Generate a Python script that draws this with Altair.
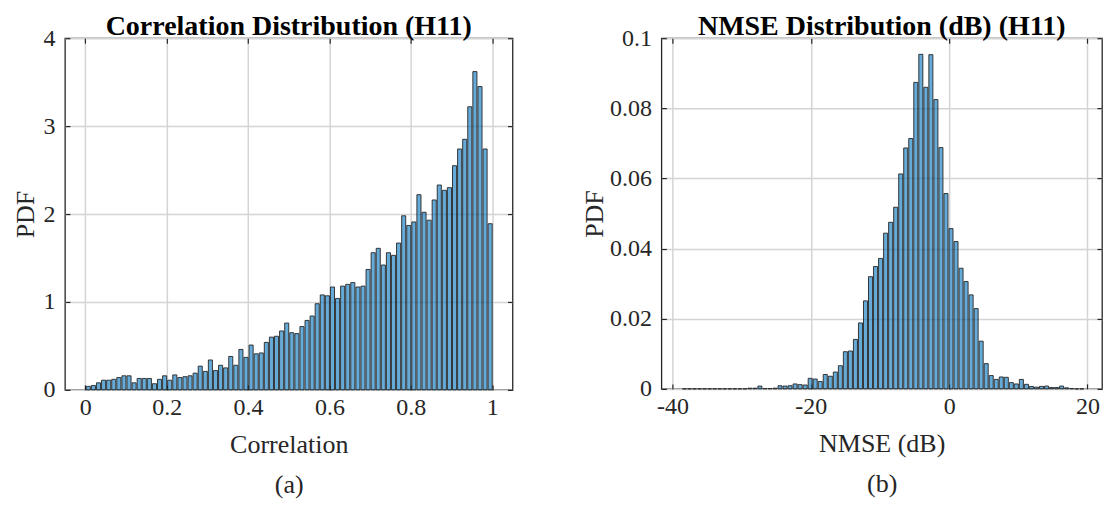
import altair as alt
import numpy as np
import pandas as pd

# ---------------- data ----------------
# Correlation histogram: 80 equal bins on [0, 1], PDF values
corr_range = [0.0, 1.0]
corr_pdf = [
    0.04, 0.05, 0.08, 0.11, 0.11, 0.12, 0.14, 0.16, 0.16, 0.08,
    0.13, 0.13, 0.13, 0.07, 0.12, 0.16, 0.11, 0.17, 0.14, 0.15,
    0.16, 0.19, 0.27, 0.21, 0.34, 0.22, 0.28, 0.25, 0.38, 0.28,
    0.46, 0.37, 0.51, 0.41, 0.42, 0.54, 0.60, 0.61, 0.67, 0.76,
    0.65, 0.64, 0.72, 0.79, 0.84, 0.98, 1.08, 1.07, 1.17, 1.04,
    1.18, 1.20, 1.22, 1.17, 1.18, 1.37, 1.56, 1.61, 1.42, 1.56,
    1.53, 1.67, 1.98, 1.87, 1.91, 2.22, 2.02, 1.93, 2.16, 2.33,
    2.27, 2.30, 2.55, 2.74, 2.85, 3.22, 3.62, 3.45, 2.74, 1.89,
]

# NMSE (dB) histogram: 80 equal bins on [-38.70, 19.46], PDF values
nmse_range = [-38.70, 19.46]
nmse_pdf = [
    0, 0, 0, 0, 0, 0, 0, 0, 0, 0,
    0, 0, 0, 0.0002, 0.0002, 0.0008, 0.0001, 0.0001, 0.0002, 0.0009,
    0.0008, 0.0009, 0.0014, 0.0012, 0.0011, 0.0030, 0.0028, 0.0021, 0.0041, 0.0036,
    0.0048, 0.0066, 0.0106, 0.0108, 0.0141, 0.0188, 0.0251, 0.0320, 0.0349, 0.0372,
    0.0444, 0.0475, 0.0518, 0.0613, 0.0687, 0.0714, 0.0874, 0.0954, 0.0860, 0.0953,
    0.0825, 0.0688, 0.0557, 0.0457, 0.0420, 0.0344, 0.0306, 0.0268, 0.0229, 0.0136,
    0.0072, 0.0038, 0.0027, 0.0034, 0.0033, 0.0018, 0.0014, 0.0027, 0.0013, 0.0007,
    0.0005, 0.0007, 0.0008, 0.0004, 0.0004, 0.0008, 0.0003, 0.0001, 0, 0,
]

corr_ticks = [0, 0.2, 0.4, 0.6, 0.8, 1]
corr_y_ticks = [0, 1, 2, 3, 4]
nmse_ticks = [-40, -20, 0, 20]
nmse_y_ticks = [0, 0.02, 0.04, 0.06, 0.08, 0.1]


def hist_frame(vals, rng):
    edges = np.linspace(rng[0], rng[1], len(vals) + 1)
    return pd.DataFrame({"x0": edges[:-1], "x1": edges[1:], "pdf": vals})


FONT = "Liberation Serif"
INK = "#262626"
LBL = "toString(datum.value)"


def panel(df, title, xtitle, cap, xdom, xvals, ydom, yvals, w, h, ytpad, tsize):
    xs = alt.Scale(domain=xdom, nice=False, zero=False)
    ys = alt.Scale(domain=ydom, nice=False, zero=False)
    grid = dict(grid=True, gridColor="#d4d4d4", gridWidth=1.5, domain=False,
                tickSize=0, minExtent=0, labelExpr=LBL)
    main_x = alt.Axis(values=xvals, labelPadding=6,
                      title=[xtitle, cap], titleLineHeight=40, titlePadding=12,
                      **grid)
    main_y = alt.Axis(values=yvals, labelPadding=10,
                      title="PDF", titlePadding=ytpad, **grid)
    bars = alt.Chart(df).mark_bar(
        fill="#0072BD", fillOpacity=0.6, stroke=INK, strokeWidth=0.9
    ).encode(
        x=alt.X("x0:Q", bin="binned", scale=xs, axis=main_x),
        x2="x1",
        y=alt.Y("pdf:Q", scale=ys, axis=main_y),
    )
    tick = dict(labels=False, grid=False, domain=False, tickSize=5,
                tickColor=INK, tickWidth=1.2, title=None, offset=-5,
                minExtent=0, maxExtent=0)
    t_bl = alt.Chart(df).mark_bar(opacity=0).encode(
        x=alt.X("x0:Q", bin="binned", scale=xs,
                axis=alt.Axis(orient="bottom", values=xvals, **tick)),
        x2="x1",
        y=alt.Y("pdf:Q", scale=ys, axis=alt.Axis(orient="left", values=yvals, **tick)),
    )
    t_tr = alt.Chart(df).mark_bar(opacity=0).encode(
        x=alt.X("x0:Q", bin="binned", scale=xs,
                axis=alt.Axis(orient="top", values=xvals, **tick)),
        x2="x1",
        y=alt.Y("pdf:Q", scale=ys, axis=alt.Axis(orient="right", values=yvals, **tick)),
    )
    return alt.layer(bars, t_bl, t_tr).resolve_axis(
        x="independent", y="independent"
    ).properties(
        width=w, height=h,
        title=alt.TitleParams(title, font=FONT, fontSize=tsize, fontWeight="bold",
                              color="black", offset=-15),
    )


left = panel(hist_frame(corr_pdf, corr_range), "Correlation Distribution (H11)",
             "Correlation", "(a)", [-0.05, 1.05], corr_ticks, [0, 4], corr_y_ticks,
             448, 352, 4, 28)
right = panel(hist_frame(nmse_pdf, nmse_range), "NMSE Distribution (dB) (H11)",
              "NMSE (dB)", "(b)", [-41.6, 22.1], nmse_ticks, [0, 0.1], nmse_y_ticks,
              441, 351, 2, 28)

chart = alt.hconcat(left, right, spacing=66).properties(
    padding={"left": 4, "top": 4, "right": 0, "bottom": 0}
).configure_view(
    stroke=INK, strokeWidth=1.3
).configure_axis(
    labelFont=FONT, labelFontSize=24, labelColor=INK,
    titleFont=FONT, titleFontSize=26, titleFontWeight="normal", titleColor=INK,
)

chart.save("out.html", embed_options={"renderer": "svg", "actions": False})
